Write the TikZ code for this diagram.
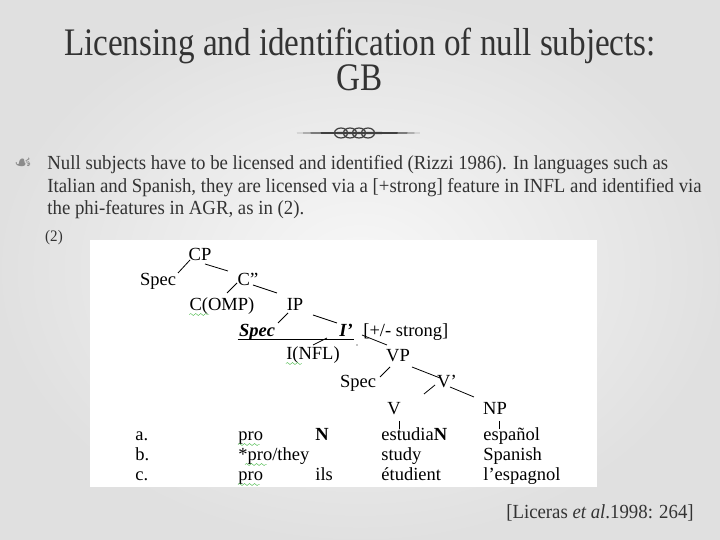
\documentclass[tikz,border=0pt]{standalone}
\usepackage{fontspec}
\setmainfont{Liberation Serif}
\newfontfamily\titlefont[FakeStretch=0.85]{Liberation Serif}
\newfontfamily\bodyfont[FakeStretch=0.94]{Liberation Serif}
\newfontfamily\symfont{DejaVu Sans}
\usetikzlibrary{calc,decorations.pathmorphing,positioning}

\begin{document}
\begin{tikzpicture}[x=0.5pt,y=-0.5pt]

  \path[use as bounding box] (0,0) rectangle (720,540);
  \shade[inner color=black!3,outer color=black!12] (0,0) rectangle (720,540);

  \tikzstyle{titletext}=[text=black!80,inner sep=0pt,font=\titlefont\fontsize{19.5}{23}\selectfont]
  \tikzstyle{bodytext}=[text=black!80,inner sep=0pt,align=left,font=\bodyfont\fontsize{10}{11.3}\selectfont]
  \tikzstyle{cat}=[inner sep=0.5pt,text height=1.45ex,text depth=0.25ex,font=\fontsize{9.25}{11}\selectfont]
  \tikzstyle{word}=[cat,anchor=west]
  \tikzstyle{branch}=[draw,thin]
  \tikzstyle{stem}=[draw,thin,shorten >=-1.5pt]
  \tikzstyle{squig}=[draw=green!45!gray,very thin,decorate,decoration={snake,amplitude=0.5,segment length=2.5}]

  % heading
  \node[titletext] (title1) at (360,46) {Licensing and identification of null subjects:};
  \node[titletext] (title2) at (360,78) {GB};

  \fill[black!75] (297,133) .. controls (330,131.5) and (390,131.5) .. (420,133)
                            .. controls (390,134.5) and (330,134.5) .. (297,133) -- cycle;
  \foreach \x in {341,350,359,368}
    \draw[black!75,line width=0.6pt] (\x,133) ellipse (6.5 and 5);

  % text
  \node[text=black!45,inner sep=0pt,font=\symfont\fontsize{10}{11}\selectfont] (bul) at (23,164) {☙};
  \node[bodytext,anchor=north west] (para) at (47,155)
    {Null subjects have to be licensed and identified (Rizzi 1986). In languages such as\\
     Italian and Spanish, they are licensed via a [+strong] feature in INFL and identified via\\
     the phi-features in AGR, as in (2).};
  \node[bodytext,font=\bodyfont\fontsize{8}{9}\selectfont] (exnum) at (54,238) {(2)};

  \fill[white] (90,240) rectangle (597,487);

  % tree
  \node[cat] (CP) at (200,255) {CP};
  \node[cat] (specA) at (158,280) {Spec};
  \node[cat] (cBar) at (248,280) {C”};
  \node[cat] (comp) at (222,305) {C(OMP)};
  \node[cat] (IP) at (295,305) {IP};
  \node[cat,font=\fontsize{9.25}{11}\selectfont\bfseries\itshape] (specB) at (257,331) {Spec};
  \node[cat,font=\fontsize{9.25}{11}\selectfont\bfseries\itshape] (iBar) at (346,331) {I’};
  \node[cat,anchor=west] (strong) at (362,331) {[+/- strong]};
  \node[cat] (infl) at (313,354) {I(NFL)};
  \node[cat] (VP) at (398,356) {VP};
  \node[cat] (specC) at (358,382) {Spec};
  \node[cat] (vBar) at (447,382) {V’};
  \node[cat] (vV) at (394,409) {V};
  \node[cat] (NP) at (495,409) {NP};

  \draw[branch] ($(CP)+(-10,5)$) -- ($(specA)+(20,-7)$);
  \draw[branch] ($(CP)+(5,9)$) -- ($(cBar)+(-20,-9)$);
  \draw[branch] ($(cBar)+(-11,3)$) -- ($(comp)+(5,-12)$);
  \draw[branch] ($(cBar)+(5,5)$) -- ($(IP)+(-18,-12)$);
  \draw[branch] ($(IP)+(-7,8)$) -- ($(specB)+(21,-8)$);
  \draw[branch] ($(IP)+(18,10)$) -- ($(iBar)+(-9,-8)$);
  \draw[thin] ($(specB.base west)+(0,3)$) -- ($(iBar.base east)+(0,3)$);
  \draw[branch] ($(iBar)+(-19,7)$) -- ($(infl)+(0,-9)$);
  \fill (357,345) circle (0.6);
  \draw[branch] ($(iBar)+(16,4)$) -- ($(VP)+(-11,-11)$);
  \draw[branch] ($(VP)+(-8,11)$) -- ($(specC)+(22,-5)$);
  \draw[branch] ($(VP)+(14,11)$) -- ($(vBar)+(-7,-4)$);
  \draw[branch] ($(vBar)+(-12,3)$) -- ($(vV)+(30,-15)$);
  \draw[branch] ($(vBar)+(3,5)$) -- ($(NP)+(-21,-12)$);

  % examples
  \node[word] (la) at (134,435) {a.};
  \node[word] (pa) at (237,435) {pro};
  \node[word] (na) at (314,435) {\textbf{N}};
  \node[word] (va) at (380,435) {estudia\textbf{N}};
  \node[word] (oa) at (482,435) {español};

  \node[word] (lb) at (134,455) {b.};
  \node[word] (pb) at (237,455) {*pro/they};
  \node[word] (vb) at (380,455) {study};
  \node[word] (ob) at (482,455) {Spanish};

  \node[word] (lc) at (134,475) {c.};
  \node[word] (pc) at (237,475) {pro};
  \node[word] (nc) at (314,475) {ils};
  \node[word] (vc) at (380,475) {étudient};
  \node[word] (oc) at (482,475) {l’espagnol};

  \draw[stem] ($(vV)+(5,12)$) coordinate (vStem) -- (vStem |- va.north);
  \draw[stem] ($(NP)+(4,12)$) coordinate (npStem) -- (npStem |- oa.north);

  \draw[squig] ($(comp.base west)+(1,4)$) -- ++(20,0);
  \draw[squig] ($(infl.base west)+(1,4)$) -- ++(16,0);
  \draw[squig] ($(pa.base west)+(1,4)$) -- ++(22,0);
  \draw[squig] ($(pb.base west)+(8,4)$) -- ++(22,0);
  \draw[squig] ($(pc.base west)+(1,4)$) -- ++(22,0);

  % source
  \node[bodytext] (cite) at (600,513) {[Liceras \textit{et al}.1998: 264]};

\end{tikzpicture}
\end{document}
